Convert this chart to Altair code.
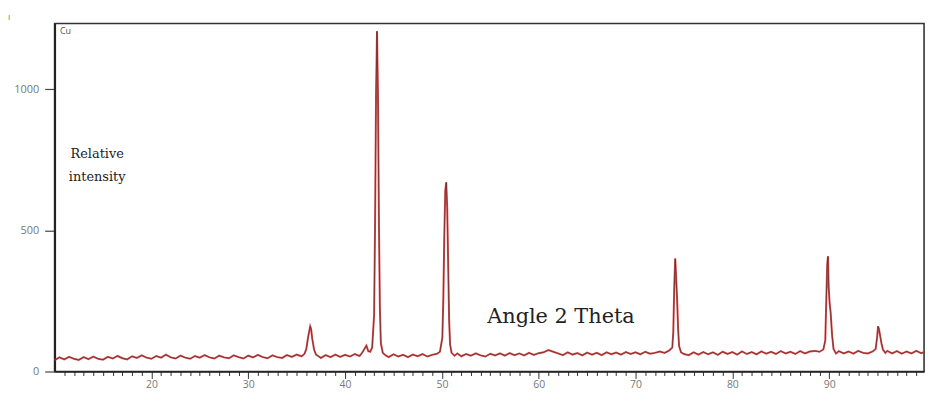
import altair as alt
import pandas as pd

angle = [
    10, 10.5, 11, 11.5, 12, 12.5, 13, 13.5, 14, 14.5, 15, 15.5, 16, 16.5, 17, 17.5,
    18, 18.5, 19, 19.5, 20, 20.5, 21, 21.5, 22, 22.5, 23, 23.5, 24, 24.5, 25, 25.5,
    26, 26.5, 27, 27.5, 28, 28.5, 29, 29.5, 30, 30.5, 31, 31.5, 32, 32.5, 33, 33.5,
    34, 34.5, 35, 35.5,
    35.8, 36.0, 36.2, 36.4, 36.5, 36.6, 36.8, 37.0, 37.3,
    37.5, 38, 38.5, 39, 39.5, 40, 40.5, 41, 41.5, 41.8, 42.0, 42.2, 42.4, 42.6, 42.8,
    43.0, 43.1, 43.2, 43.3, 43.4, 43.5, 43.6, 43.7, 43.9, 44.2, 44.5,
    45, 45.5, 46, 46.5, 47, 47.5, 48, 48.5, 49, 49.5, 49.8,
    50.05, 50.15, 50.25, 50.35, 50.45, 50.55, 50.65, 50.75, 50.85, 51.0, 51.3, 51.6,
    52, 52.5, 53, 53.5, 54, 54.5, 55, 55.5, 56, 56.5, 57, 57.5, 58, 58.5, 59, 59.5,
    60, 60.5, 61, 61.5, 62, 62.5, 63, 63.5, 64, 64.5, 65, 65.5, 66, 66.5, 67, 67.5,
    68, 68.5, 69, 69.5, 70, 70.5, 71, 71.5, 72, 72.5, 73, 73.5,
    73.8, 73.9, 74.0, 74.1, 74.2, 74.3, 74.4, 74.5, 74.7,
    75, 75.5, 76, 76.5, 77, 77.5, 78, 78.5, 79, 79.5, 80, 80.5, 81, 81.5, 82, 82.5,
    83, 83.5, 84, 84.5, 85, 85.5, 86, 86.5, 87, 87.5, 88, 88.5, 89,
    89.4, 89.6, 89.7, 89.8, 89.88, 89.95, 90.05, 90.15, 90.3, 90.45, 90.7,
    91, 91.5, 92, 92.5, 93, 93.5, 94, 94.5,
    94.8, 94.95, 95.05, 95.15, 95.25, 95.4, 95.55, 95.8,
    96, 96.5, 97, 97.5, 98, 98.5, 99, 99.5, 99.75,
]

intensity = [
    40, 50, 43, 52, 45, 41, 51, 44, 53, 45, 42, 52, 46, 55, 47, 43,
    54, 48, 57, 49, 45, 55, 49, 60, 50, 46, 56, 49, 45, 55, 49, 58,
    50, 46, 56, 50, 47, 57, 51, 46, 56, 50, 59, 51, 47, 57, 51, 48,
    58, 52, 60, 54,
    62, 80, 125, 160, 150, 118, 78, 60, 53,
    48, 58, 51, 60, 52, 59, 53, 62, 55, 68, 80, 92, 72, 70, 85,
    200, 520, 980, 1205, 980, 520, 220, 100, 66, 57, 51,
    61, 53, 59, 51, 60, 54, 62, 53, 59, 63, 70,
    120, 260, 480, 640, 670, 580, 380, 180, 95, 66, 56, 64,
    54, 62, 56, 64, 57, 53, 63, 57, 64, 56, 65, 58, 64, 57, 66, 59,
    65, 68, 76, 70, 64, 58, 68, 60, 65, 57, 67, 60, 66, 58, 68, 61,
    67, 60, 69, 62, 68, 61, 70, 63, 66, 71, 66, 75,
    85, 140, 300, 400, 330, 250, 150, 90, 68,
    62, 58, 68, 60, 69, 61, 68, 59, 70, 62, 69, 60, 71, 62, 69, 61,
    71, 63, 70, 62, 72, 64, 70, 62, 72, 64, 71, 73, 70,
    78, 110, 250, 380, 408, 300, 240, 210, 130, 80, 64,
    72, 64, 71, 63, 73, 66, 64, 71,
    80, 120, 160, 150, 130, 100, 78, 66,
    73, 64, 72, 63, 71, 64, 73, 65, 68,
]

x_ticks = list(range(11, 100))
y_ticks = [0, 500, 1000]

notes_text = ["Cu", "Relative", "intensity", "Angle 2 Theta", "ı"]
notes_angle = [10.55, 14.4, 14.4, 62.3, 5.3]
notes_int = [1205, 770, 690, 192, 1255]

df = pd.DataFrame({"angle": angle, "intensity": intensity})

x_scale = alt.Scale(domain=[10, 99.8], nice=False, zero=False)
y_scale = alt.Scale(domain=[0, 1232], nice=False)

x_axis = alt.Axis(
    values=x_ticks,
    labelExpr="datum.value % 10 === 0 ? datum.label : ''",
    tickSize={"condition": {"test": "datum.value % 10 === 0", "value": 7}, "value": 4},
    tickColor="#333333",
    tickWidth=1,
    domainColor="#222222",
    domainWidth=1.5,
    labelColor="#777777",
    labelFont="Open Sans",
    labelFontSize=10.5,
    labelPadding=1,
    labelOverlap=False,
    labelFlush=False,
    grid=False,
    title=None,
)
y_axis = alt.Axis(
    values=y_ticks,
    format="d",
    tickSize=10,
    tickColor="#444444",
    tickWidth=1.2,
    domainColor="#222222",
    domainWidth=2,
    labelColor="#777777",
    labelFont="Open Sans",
    labelFontSize=11,
    labelPadding=6,
    grid=False,
    title=None,
)

base = alt.Chart(df).encode(
    x=alt.X("angle:Q", scale=x_scale, axis=x_axis),
    y=alt.Y("intensity:Q", scale=y_scale, axis=y_axis),
)

red = base.mark_line(color="#d03434", strokeWidth=2, opacity=0.85, interpolate="linear")
dark = base.mark_line(color="#3a1515", strokeWidth=0.7, opacity=0.75, interpolate="linear")

notes = pd.DataFrame({"angle": notes_angle, "intensity": notes_int, "t": notes_text})


def note(rows, **kw):
    return alt.Chart(notes.iloc[rows]).mark_text(**kw).encode(
        x=alt.X("angle:Q", scale=x_scale, axis=x_axis),
        y=alt.Y("intensity:Q", scale=y_scale, axis=y_axis),
        text="t:N",
    )


cu = note([0], font="Open Sans", fontSize=9, color="#555555", align="left", baseline="middle")
rel = note([1, 2], font="DejaVu Serif", fontSize=13, color="#222222", align="center", baseline="middle")
ang = note([3], font="DejaVu Serif", fontSize=21, color="#222222", align="center", baseline="middle")
tick_mark = note([4], font="Open Sans", fontSize=9, color="#777777", align="center", baseline="middle")

chart = (
    alt.layer(red, dark, cu, rel, ang, tick_mark)
    .properties(
        width=877,
        height=351,
        autosize=alt.AutoSizeParams(type="none"),
        padding={"left": 47, "top": 14, "right": 6, "bottom": 20},
        background="white",
    )
    .configure_view(stroke="#333333", strokeWidth=1.6)
)

chart.save("out.html", embed_options={"renderer": "svg", "actions": False})
